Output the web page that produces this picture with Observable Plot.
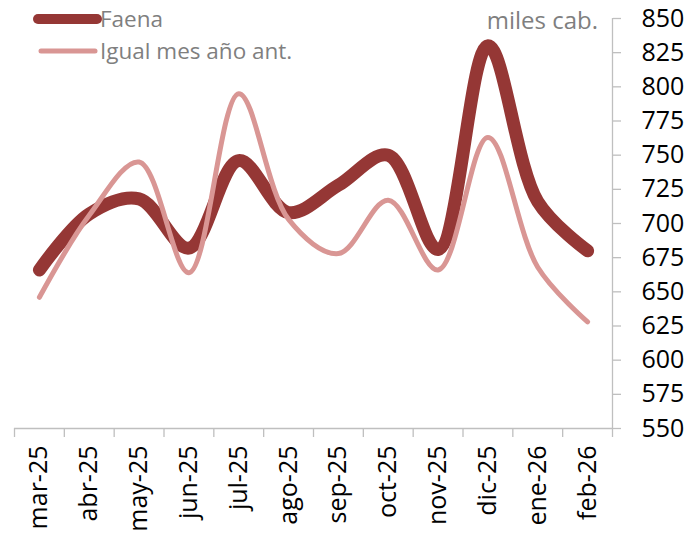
<!DOCTYPE html>
<html>
<head>
<meta charset="utf-8">
<script src="https://cdn.jsdelivr.net/npm/d3@7"></script>
<script src="https://cdn.jsdelivr.net/npm/@observablehq/plot@0.6"></script>
<style>
  body { margin: 0; background: white; }
  #wrap { position: relative; width: 693px; height: 535px; font-family: "Open Sans", sans-serif; }
  .leg { position: absolute; left: 0; top: 0; }
  .unit { position: absolute; right: 95px; top: 4px; font-size: 24px; color: #7f7f7f; line-height: 32px; }
</style>
</head>
<body>
<div id="wrap"></div>
<script>
const months = ["mar-25","abr-25","may-25","jun-25","jul-25","ago-25","sep-25","oct-25","nov-25","dic-25","ene-26","feb-26"];
const faena = [666, 707, 718, 682, 746, 708, 728, 750, 681, 830, 716, 680];
const igual = [646, 706, 745, 664, 795, 703, 678, 717, 666, 763, 668, 628];
const yTicks = [550, 575, 600, 625, 650, 675, 700, 725, 750, 775, 800, 825, 850];
const seriesNames = ["Faena", "Igual mes año ant."];
const colors = ["#953735", "#d99694"];

const rows = months.map((m, i) => ({i: i + 0.5, month: m, faena: faena[i], igual: igual[i]}));

const chart = Plot.plot({
  width: 693, height: 535,
  marginLeft: 14, marginRight: 81, marginTop: 18, marginBottom: 107,
  x: {domain: [0, 12], axis: null},
  y: {domain: [550, 850], axis: null},
  style: {fontFamily: "Open Sans", fontSize: "25px", color: "black", background: "white"},
  marks: [
    Plot.ruleY([550], {stroke: "#bfbfbf", strokeWidth: 1.3}),
    Plot.ruleX([12], {stroke: "#bfbfbf", strokeWidth: 1.3}),
    Plot.axisX({ticks: d3.range(13), tickFormat: () => "", tickSize: 9, stroke: "#bfbfbf", strokeWidth: 1.3, label: null}),
    Plot.axisX({ticks: months.map((m, i) => i + 0.5), tickFormat: d => months[Math.round(d - 0.5)], tickSize: 0, tickRotate: -90, tickPadding: 17, fill: "black", label: null}),
    Plot.axisY({anchor: "right", ticks: yTicks, tickSize: 8, tickPadding: 21, stroke: "#bfbfbf", strokeWidth: 1.3, fill: "black", label: null}),
    Plot.line(rows, {x: "i", y: "faena", curve: "catmull-rom", stroke: colors[0], strokeWidth: 13, strokeLinecap: "round", strokeLinejoin: "round"}),
    Plot.line(rows, {x: "i", y: "igual", curve: "catmull-rom", stroke: colors[1], strokeWidth: 5, strokeLinecap: "round", strokeLinejoin: "round"})
  ]
});

const wrap = document.getElementById("wrap");
wrap.appendChild(chart);

const leg = document.createElement("div");
leg.className = "leg";
leg.innerHTML = `
<svg width="340" height="70" style="display:block">
  <line x1="38" y1="19" x2="97" y2="19" stroke="${colors[0]}" stroke-width="10" stroke-linecap="round"/>
  <text x="100" y="19" dy="0.35em" font-size="22.5" fill="#7f7f7f" font-family="Open Sans">${seriesNames[0]}</text>
  <line x1="41" y1="51" x2="95" y2="51" stroke="${colors[1]}" stroke-width="5" stroke-linecap="round"/>
  <text x="100" y="51" dy="0.35em" font-size="22.5" fill="#7f7f7f" font-family="Open Sans">${seriesNames[1]}</text>
</svg>`;
wrap.appendChild(leg);

const unit = document.createElement("div");
unit.className = "unit";
unit.textContent = "miles cab.";
wrap.appendChild(unit);
</script>
</body>
</html>
